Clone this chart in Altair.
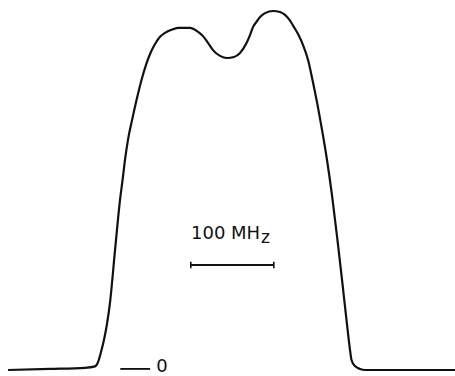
import altair as alt
import pandas as pd

# Absorption profile: frequency offset (MHz) vs relative intensity
freq_mhz = [-260.2, -209.6, -167.5, -155.4, -151.8, -148.2, -144.6, -141.0, -137.3, -131.3,
            -125.3, -121.9, -119.3, -115.7, -110.8, -105.4, -99.4, -94.0, -88.6, -83.1,
            -77.1, -71.1, -63.9, -55.4, -41.0, -32.5, -25.3, -19.3, -13.3, -4.8,
            3.6, 12.0, 19.3, 26.5, 31.3, 34.9, 39.8, 43.4, 49.4, 59.0,
            67.5, 73.5, 78.9, 84.3, 89.8, 95.2, 101.2, 106.6, 112.7, 118.1,
            124.1, 130.1, 136.7, 142.2, 147.6, 151.8, 153.6, 157.8, 163.9, 169.9,
            212.0, 278.3]
intensity = [0.0, 0.003, 0.006, 0.010, 0.022, 0.050, 0.084, 0.128, 0.189, 0.334,
             0.474, 0.535, 0.585, 0.641, 0.696, 0.752, 0.808, 0.850, 0.883, 0.908,
             0.928, 0.939, 0.947, 0.953, 0.953, 0.944, 0.930, 0.911, 0.891, 0.875,
             0.869, 0.872, 0.883, 0.908, 0.933, 0.955, 0.972, 0.983, 0.994, 1.0,
             0.997, 0.989, 0.975, 0.955, 0.933, 0.905, 0.864, 0.808, 0.738, 0.669,
             0.585, 0.487, 0.362, 0.251, 0.139, 0.056, 0.028, 0.011, 0.003, 0.0,
             0.0, 0.0]

# 100 MHz scale bar and zero-level marker
bar_start = [-40.0]
bar_end = [60.0]
bar_level = [0.2925]
zero_mark_start = [-125.0]
zero_mark_end = [-89.0]

X_DOMAIN = [-269.9, 278.3]
Y_DOMAIN = [-0.0167, 1.0306]

xs = alt.Scale(domain=X_DOMAIN)
ys = alt.Scale(domain=Y_DOMAIN)
noax = dict(axis=None)
INK = "#111111"

profile = pd.DataFrame({"f": freq_mhz, "i": intensity})
curve = alt.Chart(profile).mark_line(
    color=INK, strokeWidth=2.2, interpolate="monotone"
).encode(
    x=alt.X("f:Q", scale=xs, **noax),
    y=alt.Y("i:Q", scale=ys, **noax),
)

bar_df = pd.DataFrame({"a": bar_start, "b": bar_end, "y": bar_level})
bar = alt.Chart(bar_df).mark_rule(color=INK, strokeWidth=1.8).encode(
    x=alt.X("a:Q", scale=xs, **noax), x2="b:Q",
    y=alt.Y("y:Q", scale=ys, **noax),
)

ends_df = pd.DataFrame({"x": [bar_start[0], bar_end[0]],
                        "y0": [bar_level[0] - 0.009] * 2,
                        "y1": [bar_level[0] + 0.009] * 2})
ends = alt.Chart(ends_df).mark_rule(color=INK, strokeWidth=1.6).encode(
    x=alt.X("x:Q", scale=xs, **noax),
    y=alt.Y("y0:Q", scale=ys, **noax), y2="y1:Q",
)

label_df = pd.DataFrame({"x": [-39.8], "y": [0.365], "t": ["100 MH"]})
label = alt.Chart(label_df).mark_text(
    align="left", baseline="alphabetic", font="DejaVu Sans", fontSize=18, color=INK,
).encode(x=alt.X("x:Q", scale=xs, **noax), y=alt.Y("y:Q", scale=ys, **noax), text="t:N")

sub_df = pd.DataFrame({"x": [44.6], "y": [0.354], "t": ["z"]})
sub = alt.Chart(sub_df).mark_text(
    align="left", baseline="alphabetic", font="DejaVu Sans", fontSize=17, color=INK,
).encode(x=alt.X("x:Q", scale=xs, **noax), y=alt.Y("y:Q", scale=ys, **noax), text="t:N")

zero_df = pd.DataFrame({"a": zero_mark_start, "b": zero_mark_end, "y": [0.003]})
zero_line = alt.Chart(zero_df).mark_rule(color=INK, strokeWidth=1.8).encode(
    x=alt.X("a:Q", scale=xs, **noax), x2="b:Q",
    y=alt.Y("y:Q", scale=ys, **noax),
)

zero_txt_df = pd.DataFrame({"x": [-74.7], "y": [0.008], "t": ["0"]})
zero_txt = alt.Chart(zero_txt_df).mark_text(
    align="center", baseline="middle", font="DejaVu Sans", fontSize=18, color=INK,
).encode(x=alt.X("x:Q", scale=xs, **noax), y=alt.Y("y:Q", scale=ys, **noax), text="t:N")

chart = alt.layer(curve, bar, ends, label, sub, zero_line, zero_txt).properties(
    width=455, height=376, padding=0, autosize=alt.AutoSizeParams(type="none"),
    background="white",
).configure_view(stroke=None)

chart.save("out.html", embed_options={"renderer": "svg", "actions": False})
